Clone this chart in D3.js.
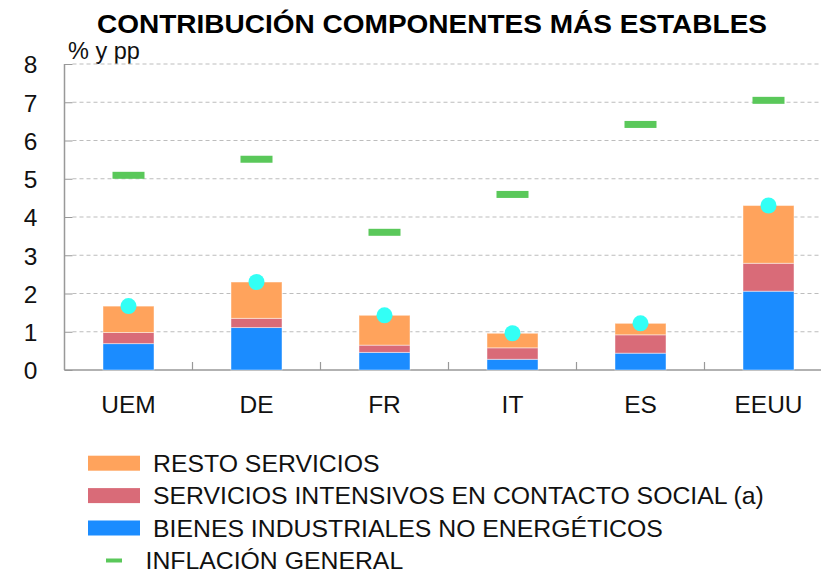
<!DOCTYPE html>
<html><head><meta charset="utf-8">
<script src="https://cdn.jsdelivr.net/npm/d3@7"></script>
<style>body{margin:0;background:#fff}svg{display:block;font-family:"Liberation Sans",Arial,sans-serif}</style>
</head><body><svg id="c" width="821" height="573"></svg>
<script>
const categories = ["UEM","DE","FR","IT","ES","EEUU"];
const bienes = [0.69,1.11,0.46,0.28,0.44,2.06];
const contacto = [0.29,0.24,0.19,0.30,0.48,0.73];
const resto = [0.69,0.95,0.78,0.38,0.30,1.51];
const inflacion = [5.09,5.51,3.60,4.59,6.42,7.05];
const yTicks = [0,1,2,3,4,5,6,7,8];
const seriesNames = ["RESTO SERVICIOS","SERVICIOS INTENSIVOS EN CONTACTO SOCIAL (a)","BIENES INDUSTRIALES NO ENERGÉTICOS","INFLACIÓN GENERAL"];
const colors = {resto:"#FFA35C", contacto:"#D96B78", bienes:"#1B8CFF", infl:"#5AC85A", dot:"#33FFF5"};

const svg = d3.select("#c");
const x0 = 64.5, yTop = 64, yBot = 370;
const x = d3.scaleBand().domain(categories).range([x0, x0 + 128*6]).paddingInner(1-51/128).paddingOuter((1-51/128)/2);
const y = d3.scaleLinear().domain([0,8]).range([yBot, yTop]);

// title
svg.append("text").attr("x", 432).attr("y", 32.5).attr("text-anchor","middle")
  .attr("font-size", 26).attr("font-weight","bold").attr("fill","#000")
  .attr("textLength", 670).attr("lengthAdjust","spacingAndGlyphs")
  .text("CONTRIBUCIÓN COMPONENTES MÁS ESTABLES");
svg.append("text").attr("x", 68).attr("y", 59).attr("font-size", 23.5).attr("fill","#111").text("% y pp");

// gridlines
svg.append("g").selectAll("line").data(yTicks.filter(d=>d>0)).join("line")
  .attr("x1", x0+8).attr("x2", 821).attr("y1", d=>y(d)).attr("y2", d=>y(d))
  .attr("stroke","#bdbdbd").attr("stroke-width",1.2).attr("stroke-dasharray","4,3");

// y axis
const yAxis = d3.axisLeft(y).tickValues(yTicks).tickSize(-8).tickPadding(27).tickFormat(d3.format("d"));
const gy = svg.append("g").attr("transform",`translate(${x0},0)`).call(yAxis);
gy.select(".domain").attr("stroke","#999").attr("stroke-width",1.5).attr("d",`M0,${yTop}V${yBot}`);
gy.selectAll(".tick line").attr("stroke","#999");
gy.selectAll(".tick text").attr("font-size",24.5).attr("fill","#111").attr("font-family","Liberation Sans, Arial, sans-serif").attr("dy","0.36em");

// x axis ticks at band boundaries
const bounds = categories.slice(1).map(c => x(c) - x.step()*x.paddingInner()/2);
svg.append("g").selectAll("line").data(bounds).join("line")
  .attr("x1",d=>d).attr("x2",d=>d).attr("y1",yBot).attr("y2",yBot-8).attr("stroke","#999").attr("stroke-width",1.2);
svg.append("line").attr("x1",x0).attr("x2",821).attr("y1",yBot).attr("y2",yBot).attr("stroke","#999").attr("stroke-width",1.5);

// category labels
svg.append("g").selectAll("text").data(categories).join("text")
  .attr("x", d=>x(d)+x.bandwidth()/2).attr("y", 413).attr("text-anchor","middle")
  .attr("font-size",24.5).attr("fill","#111").text(d=>d);

// stacked bars
const rows = categories.map((c,i)=>({cat:c, bienes:bienes[i], contacto:contacto[i], resto:resto[i]}));
const stack = d3.stack().keys(["bienes","contacto","resto"])(rows);
svg.append("g").selectAll("g").data(stack).join("g").attr("fill", s=>colors[s.key])
  .selectAll("rect").data(s=>s).join("rect")
  .attr("x", d=>x(d.data.cat)).attr("width", x.bandwidth())
  .attr("y", d=>y(d[1])).attr("height", d=>y(d[0])-y(d[1]))
  .attr("stroke","rgba(255,255,255,0.45)").attr("stroke-width",1);

// total dots
svg.append("g").selectAll("circle").data(rows).join("circle")
  .attr("cx", d=>x(d.cat)+x.bandwidth()/2).attr("cy", d=>y(d.bienes+d.contacto+d.resto))
  .attr("r", 8).attr("fill", colors.dot);

// inflation dashes
svg.append("g").selectAll("rect").data(categories).join("rect")
  .attr("x", d=>x(d)+x.bandwidth()/2-16).attr("width",32)
  .attr("y", (d,i)=>y(inflacion[i])-3.5).attr("height",7).attr("fill",colors.infl);

// legend
const lg = svg.append("g");
const lcols = [colors.resto, colors.contacto, colors.bienes];
lcols.forEach((c,i)=>{
  const yy = 455.7 + i*32.4;
  lg.append("rect").attr("x",88).attr("y",yy).attr("width",52).attr("height",15).attr("fill",c);
  lg.append("text").attr("x",153).attr("y",yy+16).attr("font-size",24.8).attr("fill","#111").text(seriesNames[i]);
});
lg.append("rect").attr("x",106).attr("y",558.5).attr("width",16).attr("height",4).attr("fill",colors.infl);
lg.append("text").attr("x",145.5).attr("y",569).attr("font-size",24.8).attr("fill","#111").text(seriesNames[3]);
</script></body></html>
